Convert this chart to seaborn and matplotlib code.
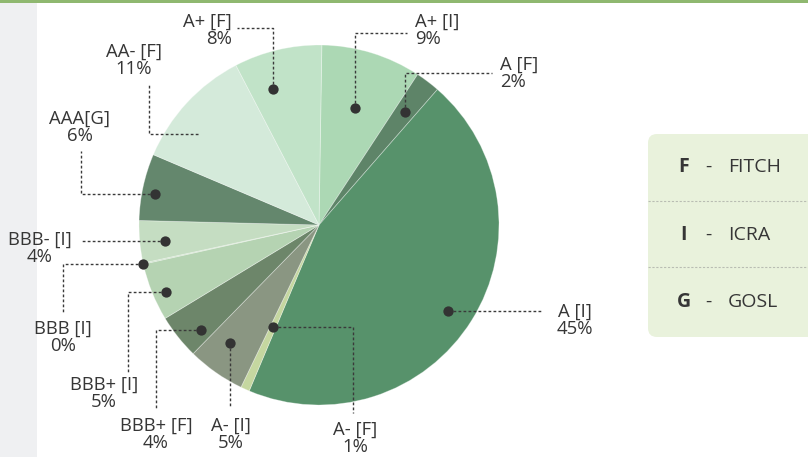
import matplotlib
matplotlib.use("Agg")
import matplotlib.pyplot as plt
from matplotlib.patches import Rectangle, FancyBboxPatch
import numpy as np
import seaborn as sns

# Portfolio split by rating (agency code in brackets), clockwise from 12 o'clock
ratings = ["A+ [I]", "A [F]", "A [I]", "A- [F]", "A- [I]", "BBB+ [F]",
           "BBB+ [I]", "BBB [I]", "BBB- [I]", "AAA[G]", "AA- [F]", "A+ [F]"]
shares = [9.0, 2.2, 45.0, 0.8, 5.2, 4.0, 5.2, 0.1, 3.8, 6.0, 11.0, 7.9]

agency_codes = ["F", "I", "G"]
agency_names = ["FITCH", "ICRA", "GOSL"]

slice_colors = ["#acd8b4", "#5e8468", "#57926b", "#c5d7a0", "#8a9682", "#6d866a",
                "#b5d3b2", "#c0d9bc", "#c5ddc2", "#64876d", "#d4eada", "#c1e3c8"]

W, H, DPI = 808, 457, 100
CX, CY, R = 319, 225, 180   # pie centre / radius in pixels


def px(x, y):
    """Pixel position (origin top-left) -> data coordinates of the pie axes."""
    return (x - CX) / R, (CY - y) / R


# callout layout: dot placement inside the wedge, leader route, label anchor
callouts = {
    "A+ [I]":   dict(f=0.50, r=0.68, route=("vh", 33, 407), text=(415, 30), ha="left"),
    "A [F]":    dict(f=0.50, r=0.79, route=("vh", 73, 492), text=(500, 73), ha="left"),
    "A [I]":    dict(f=0.51, r=0.86, route=("h", 541), text=(575, 320), ha="center"),
    "A- [F]":   dict(f=0.50, r=0.62, route=("hv", 353, 413), text=(355, 438), ha="center"),
    "A- [I]":   dict(f=0.61, r=0.82, route=("v", 407), text=(231, 434), ha="center"),
    "BBB+ [F]": dict(f=0.28, r=0.88, route=("hv", 156, 410), text=(156, 434), ha="center"),
    "BBB+ [I]": dict(f=0.41, r=0.93, route=("hv", 128, 372), text=(104, 393), ha="center"),
    "BBB [I]":  dict(f=0.50, r=1.00, route=("hv", 63, 313), text=(63, 337), ha="center"),
    "BBB- [I]": dict(f=0.46, r=0.86, route=("h", 81), text=(40, 248), ha="center"),
    "AAA[G]":   dict(f=0.43, r=0.93, route=("hv", 81, 151), text=(80, 127), ha="center"),
    "AA- [F]":  dict(f=0.35, r=0.84, route=("hv", 149, 83), text=(134, 60), ha="center", dot=False),
    "A+ [F]":   dict(f=0.31, r=0.80, route=("vh", 28, 237), text=(232, 30), ha="right"),
}

sns.set_theme(style="white")
plt.rcParams["font.family"] = ["Open Sans", "DejaVu Sans"]
TEXT = "#363636"

fig = plt.figure(figsize=(W / DPI, H / DPI), dpi=DPI, facecolor="white")
ax = fig.add_axes([0, 0, 1, 1])

palette = sns.color_palette(slice_colors)
wedges, _ = ax.pie(shares, colors=palette, startangle=89.1, counterclock=False,
                   radius=1.0, center=(0, 0),
                   wedgeprops=dict(edgecolor=(1, 1, 1, 0.35), linewidth=0.6))

ax.set_aspect("auto")
ax.set_xlim((0 - CX) / R, (W - CX) / R)
ax.set_ylim((CY - H) / R, CY / R)
ax.axis("off")

# page furniture: top accent bar and left margin strip
x0, y0 = px(0, 457)
x1, y1 = px(37, 3)
ax.add_patch(Rectangle((x0, y0), x1 - x0, y1 - y0, color="#eff0f2", zorder=0, lw=0))
bx0, by0 = px(0, 3)
bx1, by1 = px(808, 0)
ax.add_patch(Rectangle((bx0, by0), bx1 - bx0, by1 - by0, color="#8fb870", zorder=0, lw=0))

leader = dict(color="#3a3a3a", lw=1.0, linestyle=(0, (2.0, 1.6)), zorder=4)

for name, share, wedge in zip(ratings, shares, wedges):
    c = callouts[name]
    b_start = 90 - wedge.theta2
    b_end = 90 - wedge.theta1
    bearing = np.deg2rad(b_start + c["f"] * (b_end - b_start))
    dx, dy = c["r"] * np.sin(bearing), c["r"] * np.cos(bearing)
    route = c["route"]
    if route[0] == "vh":
        _, ey = px(0, route[1])
        ex, _ = px(route[2], 0)
        xs, ys = [dx, dx, ex], [dy, ey, ey]
    elif route[0] == "hv":
        kx, _ = px(route[1], 0)
        _, ky = px(0, route[2])
        xs, ys = [dx, kx, kx], [dy, dy, ky]
    elif route[0] == "h":
        ex, _ = px(route[1], 0)
        xs, ys = [dx, ex], [dy, dy]
    else:
        _, ey = px(0, route[1])
        xs, ys = [dx, dx], [dy, ey]
    ax.plot(xs, ys, **leader)
    if c.get("dot", True):
        ax.scatter([dx], [dy], s=55, color="#333333", zorder=5, linewidths=0)
    tx, ty = px(*c["text"])
    ax.text(tx, ty, f"{name}\n{share:.0f}%", ha=c["ha"], va="center",
            multialignment=c["ha"], fontsize=13.3, color=TEXT,
            linespacing=0.95, zorder=6)

# agency key panel
kx0, ky0 = px(648, 337)
kx1, ky1 = px(830, 134)
ax.add_patch(FancyBboxPatch((kx0, ky0), kx1 - kx0, ky1 - ky0,
                            boxstyle="round,pad=0,rounding_size=0.05",
                            fc="#e9f2dc", ec="none", zorder=1, clip_on=False))
for sep in (201, 267):
    sx0, sy = px(648, sep)
    sx1, _ = px(808, sep)
    ax.plot([sx0, sx1], [sy, sy], color="#b9bdb3", lw=0.8,
            linestyle=(0, (2, 1.5)), zorder=2)

for code, label, row_y in zip(agency_codes, agency_names, (167, 235, 302)):
    cx_, cy_ = px(684, row_y)
    ax.text(cx_, cy_, code, ha="center", va="center", fontsize=14,
            fontweight="bold", color=TEXT, zorder=3)
    hx, _ = px(708, row_y)
    ax.text(hx, cy_, "-", ha="center", va="center", fontsize=14, color=TEXT, zorder=3)
    nx, _ = px(728, row_y)
    ax.text(nx, cy_, label, ha="left", va="center", fontsize=14, color=TEXT, zorder=3)

fig.savefig("out.png", dpi=DPI, facecolor="white")
